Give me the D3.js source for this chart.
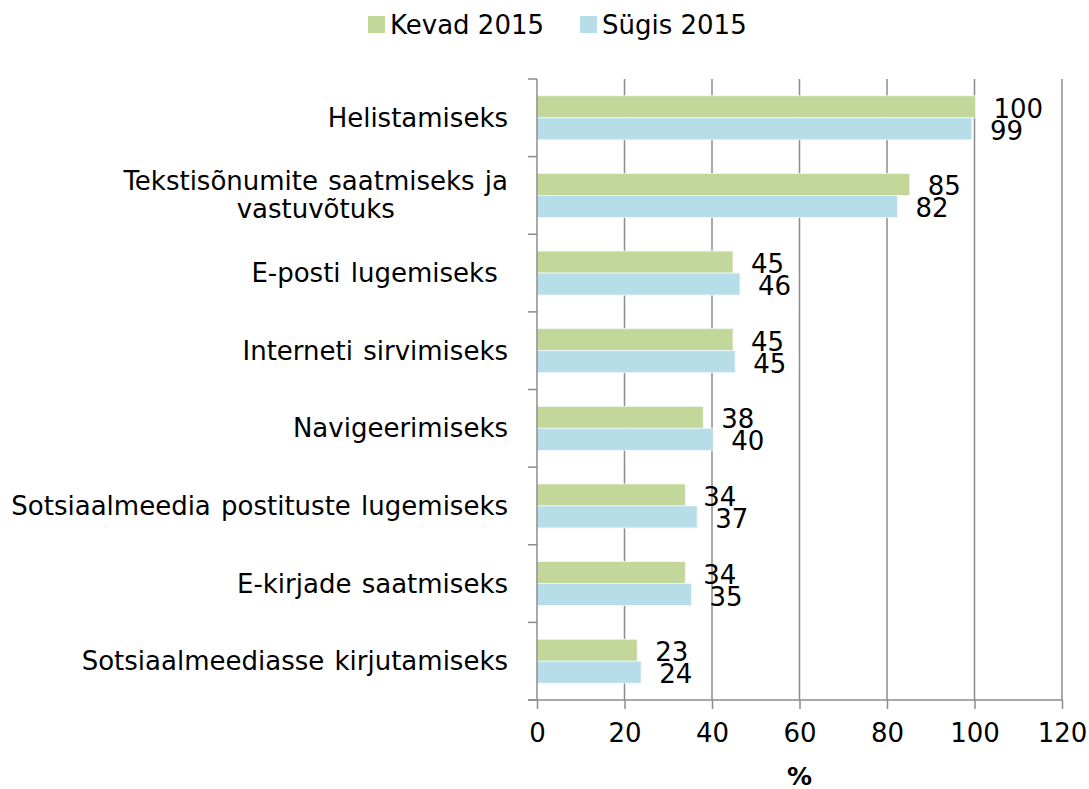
<!DOCTYPE html>
<html>
<head>
<meta charset="utf-8">
<script src="https://cdn.jsdelivr.net/npm/d3@7"></script>
<style>
  body { margin: 0; background: #fff; }
  svg text { font-family: "DejaVu Sans", Verdana, sans-serif; fill: #000; }
</style>
</head>
<body>
<svg id="chart" width="1089" height="789"></svg>
<script>
// andmed
const categories = [
  "Helistamiseks",
  "Tekstisõnumite saatmiseks ja|vastuvõtuks",
  "E-posti lugemiseks ",
  "Interneti sirvimiseks",
  "Navigeerimiseks",
  "Sotsiaalmeedia postituste lugemiseks",
  "E-kirjade saatmiseks",
  "Sotsiaalmeediasse kirjutamiseks"
]
const seriesNames = ["Kevad 2015", "Sügis 2015"]
const kevad = [100.2, 85.2, 44.8, 44.8, 38.0, 33.9, 33.9, 22.9]
const sygis = [99.4, 82.4, 46.4, 45.3, 40.3, 36.6, 35.3, 23.8]
const xTicks = [0, 20, 40, 60, 80, 100, 120]
const colors = ["#c4d79b", "#b7dee8"]

const fontSize = 26
const svg = d3.select("#chart")
const margin = { left: 537, right: 27, top: 79, bottom: 89 }
const W = 1089, H = 789

const xScale = d3.scaleLinear()
  .domain([0, 120])
  .range([margin.left, W - margin.right])

const yScale = d3.scaleBand()
  .domain(categories)
  .range([margin.top, H - margin.bottom])

const groupH = 44
const barH = groupH / 2

// ruudustik
svg.append("g")
  .selectAll("line")
  .data(xTicks.slice(1))
  .enter()
  .append("line")
  .attr("x1", d => xScale(d))
  .attr("x2", d => xScale(d))
  .attr("y1", margin.top)
  .attr("y2", H - margin.bottom)
  .attr("stroke", "#8c8c8c")
  .attr("stroke-width", 1.5)

// tulbad
const data = []
categories.forEach((c, i) => {
  data.push({ cat: c, s: 0, v: kevad[i] })
  data.push({ cat: c, s: 1, v: sygis[i] })
})

const barY = d => yScale(d.cat) + (yScale.bandwidth() - groupH) / 2 + d.s * barH

svg.append("g")
  .selectAll("rect")
  .data(data)
  .enter()
  .append("rect")
  .attr("x", xScale(0))
  .attr("y", barY)
  .attr("width", d => xScale(d.v) - xScale(0))
  .attr("height", barH)
  .attr("fill", d => colors[d.s])
  .attr("stroke", "#f2f8fa")
  .attr("stroke-width", 0.8)

// väärtused
svg.append("g")
  .selectAll("text")
  .data(data)
  .enter()
  .append("text")
  .attr("x", d => xScale(d.v) + 18)
  .attr("y", d => barY(d) + barH / 2 + 2)
  .attr("dominant-baseline", "central")
  .attr("font-size", fontSize)
  .text(d => d3.format(".0f")(d.v))

// x telg
const xAxis = svg.append("g")
  .attr("transform", "translate(0," + (H - margin.bottom) + ")")
  .call(d3.axisBottom(xScale).tickValues(xTicks).tickSize(9).tickPadding(15))
xAxis.select(".domain").attr("stroke", "#8c8c8c").attr("stroke-width", 1.5)
  .attr("d", "M" + (xScale(0) - 9) + ",0H" + xScale(120))
xAxis.selectAll(".tick line").attr("stroke", "#8c8c8c").attr("stroke-width", 1.5)
xAxis.selectAll(".tick text").attr("font-size", fontSize).attr("font-family", null)

// y telg
const yAxis = svg.append("g")
  .attr("transform", "translate(" + xScale(0) + ",0)")
yAxis.append("line")
  .attr("y1", margin.top).attr("y2", H - margin.bottom)
  .attr("stroke", "#8c8c8c").attr("stroke-width", 1.5)
const yTickPos = categories.map(c => yScale(c)).concat([H - margin.bottom])
yAxis.selectAll(".yt")
  .data(yTickPos)
  .enter()
  .append("line")
  .attr("x1", -9).attr("x2", 0)
  .attr("y1", d => d).attr("y2", d => d)
  .attr("stroke", "#8c8c8c").attr("stroke-width", 1.5)

// kategooriate nimed
const lineH = 28
categories.forEach(c => {
  const lines = c.split("|")
  const cy = yScale(c) + yScale.bandwidth() / 2
  const t = svg.append("text")
    .attr("font-size", fontSize)
    .attr("dominant-baseline", "central")
    .style("white-space", "pre")
    .style("word-spacing", "2px")
  lines.forEach((ln, j) => {
    t.append("tspan")
      .attr("y", cy + (j - (lines.length - 1) / 2) * lineH)
      .text(ln)
  })
  // paremale joondus, mitmerealine keskele
  const spans = t.selectAll("tspan").nodes()
  const widths = spans.map(s => s.getComputedTextLength())
  const maxW = d3.max(widths)
  const right = xScale(0) - 29
  spans.forEach((s, j) => {
    d3.select(s).attr("x", right - maxW + (maxW - widths[j]) / 2)
  })
})

// telje pealkiri
svg.append("text")
  .attr("x", (xScale(0) + xScale(120)) / 2)
  .attr("y", 776)
  .attr("text-anchor", "middle")
  .attr("dominant-baseline", "central")
  .attr("font-size", 25)
  .attr("font-weight", "bold")
  .text("%")

// legend
const legendX = [368, 580]
const legend = svg.append("g")
seriesNames.forEach((n, i) => {
  legend.append("rect")
    .attr("x", legendX[i]).attr("y", 16)
    .attr("width", 17).attr("height", 17)
    .attr("fill", colors[i])
  legend.append("text")
    .attr("x", legendX[i] + 22).attr("y", 24.5)
    .attr("dominant-baseline", "central")
    .attr("font-size", fontSize)
    .text(n)
})
</script>
</body>
</html>
